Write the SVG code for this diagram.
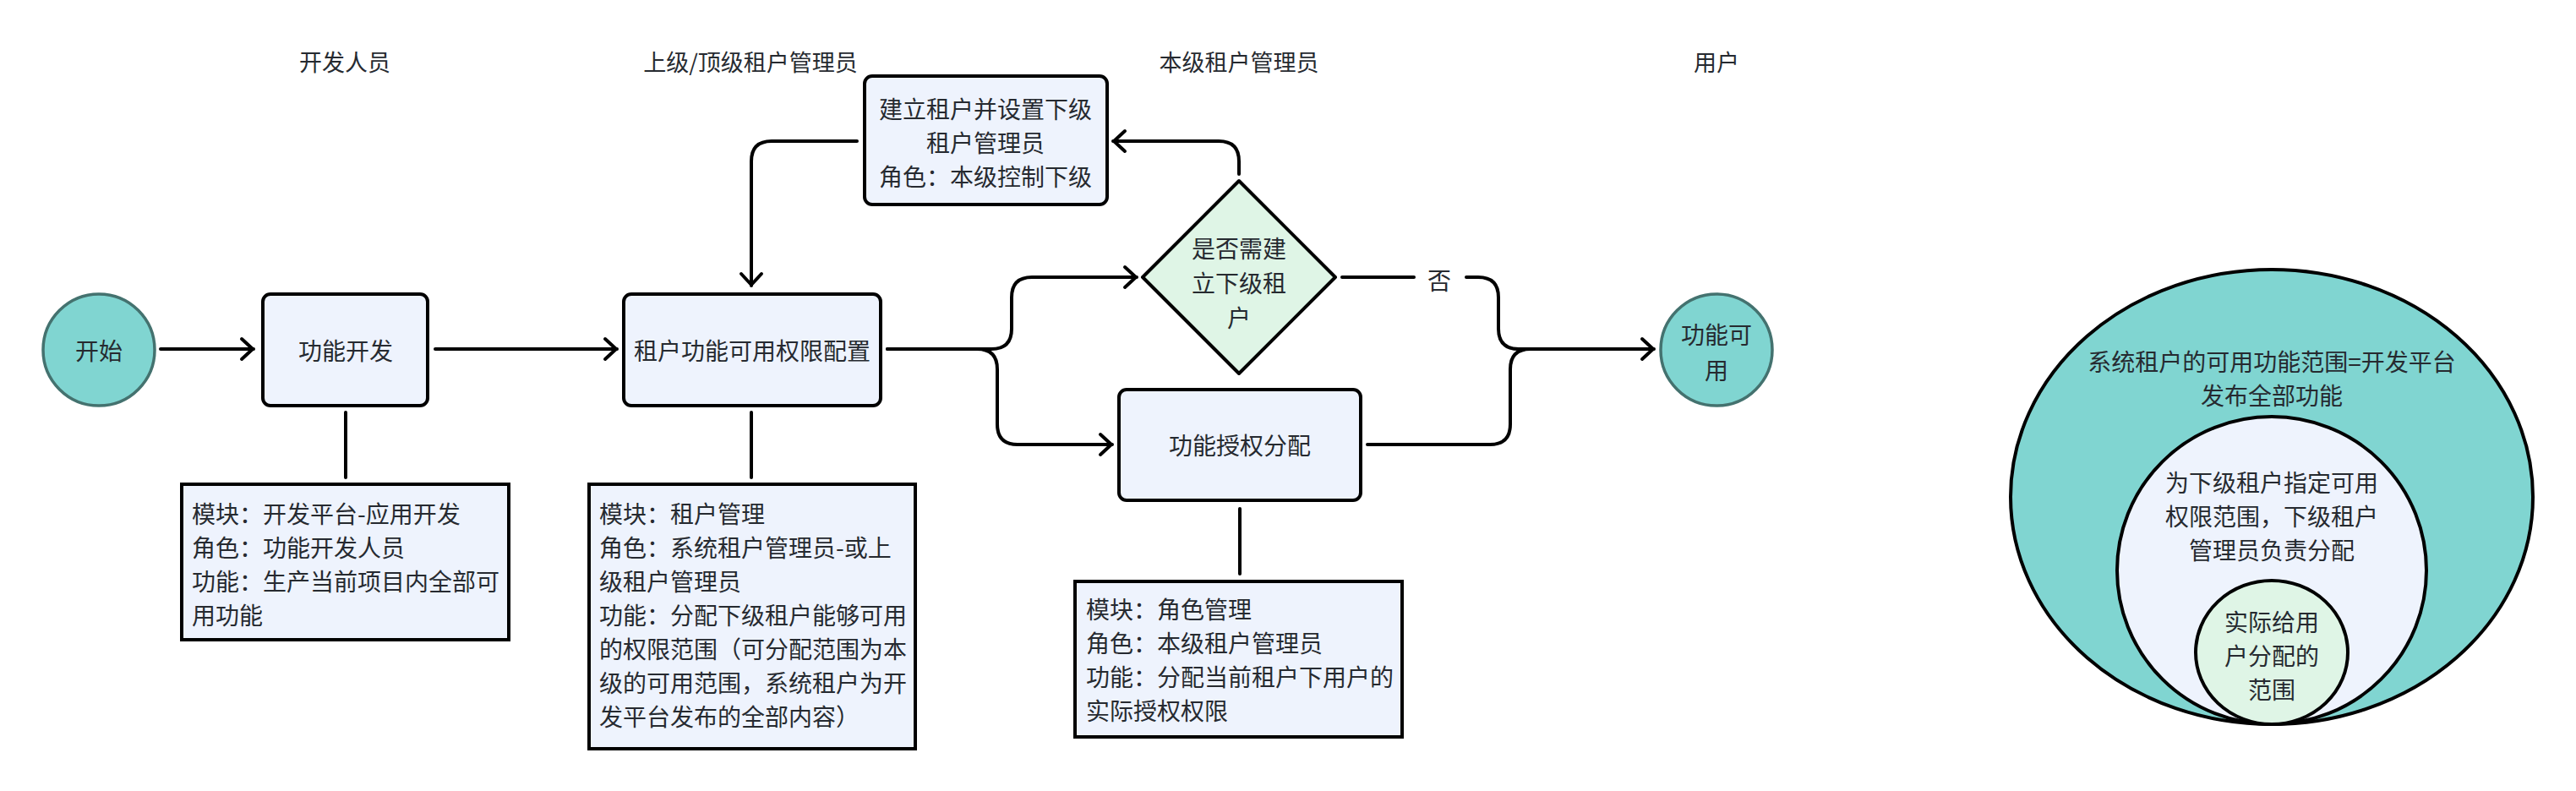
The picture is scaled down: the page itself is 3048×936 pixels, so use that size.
<svg xmlns="http://www.w3.org/2000/svg" width="3048" height="936" viewBox="0 0 3048 936">
<defs>
<style>
text{font-family:"Noto Sans CJK SC","Noto Sans",sans-serif;font-size:28px;fill:#262a30;dominant-baseline:central}
.c{text-anchor:middle}
.h{font-size:27px}
.box{fill:#eef3fd;stroke:#000;stroke-width:4}
.note{fill:#eef3fd;stroke:#000;stroke-width:4}
.term{fill:#80d5d1;stroke:#44726f;stroke-width:3.5}
.line{fill:none;stroke:#000;stroke-width:4;stroke-linecap:round;stroke-linejoin:round}
.ring{stroke:#000;stroke-width:4}
</style>
<marker id="arr" viewBox="0 0 20 30" refX="18" refY="15" markerWidth="20" markerHeight="30" markerUnits="userSpaceOnUse" orient="auto">
<path d="M4,3 L17,15 L4,27" fill="none" stroke="#000" stroke-width="4" stroke-linecap="round" stroke-linejoin="round"/>
</marker>
</defs>
<rect width="3048" height="936" fill="#fff"/>

<g id="headers">
<text class="c h" x="408" y="72">开发人员</text>
<text class="c h" x="888" y="72">上级/顶级租户管理员</text>
<text class="c h" x="1466" y="72">本级租户管理员</text>
<text class="c h" x="2031" y="72">用户</text>
</g>

<g id="connectors">
<path class="line" d="M190,413 H300" marker-end="url(#arr)"/>
<path class="line" d="M515,413 H730" marker-end="url(#arr)"/>
<path class="line" d="M1050,413 H1173 Q1197,413 1197,389 V352 Q1197,328 1221,328 H1345" marker-end="url(#arr)"/>
<path class="line" d="M1050,413 H1156 Q1180,413 1180,437 V502 Q1180,526 1204,526 H1316" marker-end="url(#arr)"/>
<path class="line" d="M1466,206 V191 Q1466,167 1442,167 H1317" marker-end="url(#arr)"/>
<path class="line" d="M1014,167 H913 Q889,167 889,191 V338" marker-end="url(#arr)"/>
<path class="line" d="M1588,328 H1673"/>
<path class="line" d="M1735,328 H1749 Q1773,328 1773,352 V389 Q1773,413 1797,413 H1957" marker-end="url(#arr)"/>
<text id="label-no" class="c" x="1703" y="331">否</text>
<path class="line" d="M1618,526 H1763 Q1787,526 1787,502 V437 Q1787,413 1811,413"/>
<path class="line" d="M409,488 V565"/>
<path class="line" d="M889,488 V565"/>
<path class="line" d="M1467,602 V679"/>
</g>

<g id="start">
<circle class="term" cx="117" cy="414" r="66"/>
<text class="c" x="117" y="414">开始</text>
</g>

<g id="dev">
<rect class="box" x="311" y="348" width="195" height="132" rx="9"/>
<text class="c" x="409" y="414">功能开发</text>
</g>

<g id="tenant-config">
<rect class="box" x="738" y="348" width="304" height="132" rx="9"/>
<text class="c" x="890" y="414">租户功能可用权限配置</text>
</g>

<g id="create-tenant">
<rect class="box" x="1023" y="90" width="287" height="152" rx="9"/>
<text class="c" x="1166" y="128">建立租户并设置下级</text>
<text class="c" x="1166" y="168">租户管理员</text>
<text class="c" x="1166" y="208">角色：本级控制下级</text>
</g>

<g id="decision">
<polygon points="1466,214 1580,328 1466,442 1352,328" fill="#dff5e6" stroke="#000" stroke-width="4" stroke-linejoin="round"/>
<text class="c" x="1466" y="293">是否需建</text>
<text class="c" x="1466" y="334">立下级租</text>
<text class="c" x="1466" y="375">户</text>
</g>

<g id="assign">
<rect class="box" x="1324" y="461" width="286" height="131" rx="9"/>
<text class="c" x="1467" y="526">功能授权分配</text>
</g>

<g id="end">
<circle class="term" cx="2031" cy="414" r="66"/>
<text class="c" x="2031" y="395">功能可</text>
<text class="c" x="2031" y="437">用</text>
</g>

<g id="note-dev">
<rect class="note" x="215" y="573" width="387" height="184"/>
<text x="227" y="607">模块：开发平台-应用开发</text>
<text x="227" y="647">角色：功能开发人员</text>
<text x="227" y="687">功能：生产当前项目内全部可</text>
<text x="227" y="727">用功能</text>
</g>

<g id="note-tenant">
<rect class="note" x="697" y="573" width="386" height="313"/>
<text x="709" y="607">模块：租户管理</text>
<text x="709" y="647">角色：系统租户管理员-或上</text>
<text x="709" y="687">级租户管理员</text>
<text x="709" y="727">功能：分配下级租户能够可用</text>
<text x="709" y="767">的权限范围（可分配范围为本</text>
<text x="709" y="807">级的可用范围，系统租户为开</text>
<text x="709" y="847">发平台发布的全部内容）</text>
</g>

<g id="note-assign">
<rect class="note" x="1272" y="688" width="387" height="184"/>
<text x="1285" y="720">模块：角色管理</text>
<text x="1285" y="760">角色：本级租户管理员</text>
<text x="1285" y="800">功能：分配当前租户下用户的</text>
<text x="1285" y="840">实际授权权限</text>
</g>

<g id="scope-system">
<ellipse class="ring" cx="2688" cy="588" rx="309" ry="269" fill="#80d5d1"/>
<text class="c" x="2688" y="427">系统租户的可用功能范围=开发平台</text>
<text class="c" x="2688" y="467">发布全部功能</text>
</g>
<g id="scope-sub">
<ellipse class="ring" cx="2688" cy="675" rx="183" ry="182" fill="#eef3fd"/>
<text class="c" x="2688" y="570">为下级租户指定可用</text>
<text class="c" x="2688" y="610">权限范围，下级租户</text>
<text class="c" x="2688" y="650">管理员负责分配</text>
</g>
<g id="scope-user">
<ellipse class="ring" cx="2688" cy="772" rx="90" ry="85" fill="#dff5e6"/>
<text class="c" x="2688" y="735">实际给用</text>
<text class="c" x="2688" y="775">户分配的</text>
<text class="c" x="2688" y="815">范围</text>
</g>
</svg>
